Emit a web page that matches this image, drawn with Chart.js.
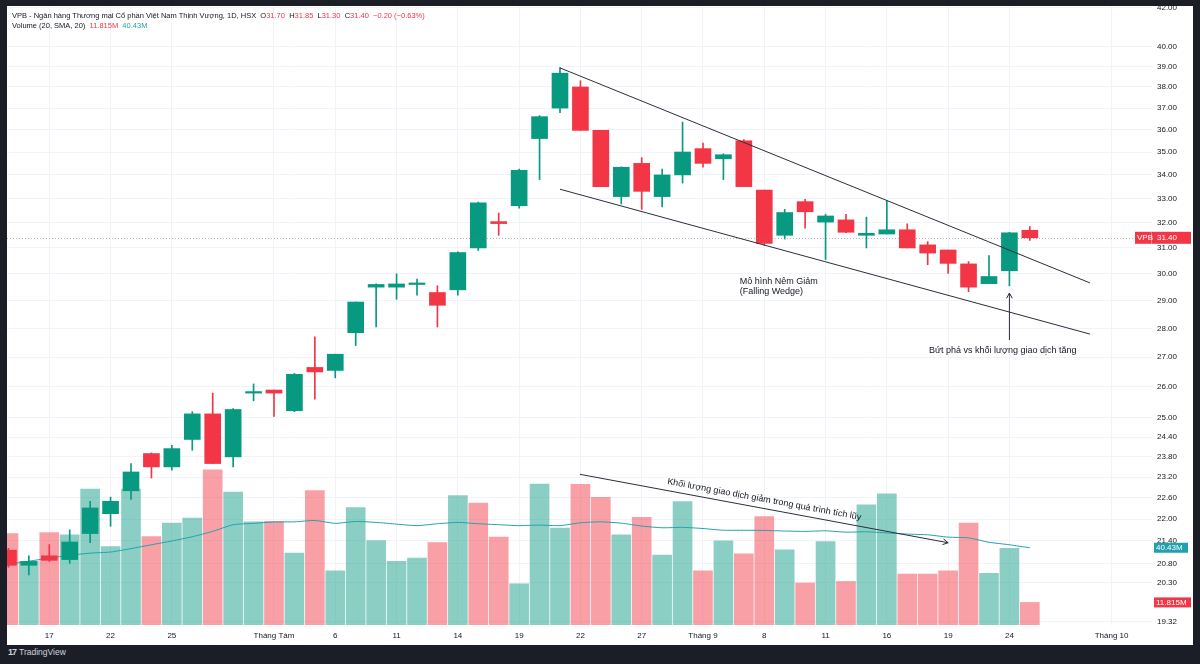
<!DOCTYPE html>
<html lang="vi">
<head>
<meta charset="UTF-8">
<title>VPB | 1D</title>
<script src="https://cdn.jsdelivr.net/npm/chart.js"></script>
<style>
    html, body { margin: 0; padding: 0; width: 1200px; height: 664px; overflow: hidden; background: #1b1e27; font-family: "Liberation Sans", Arial, sans-serif; }
    .khung { position: absolute; left: 7px; top: 6px; width: 1186px; height: 639px; background: #fff; }
    .vung-ve { position: absolute; left: 0; top: 0; width: 1186px; height: 639px; }
    .tieu-de { position: absolute; left: 5px; font-size: 7.5px; line-height: 9px; color: #131722; white-space: nowrap; }
    .do { color: #f23645; }
    .xanh { color: #22a0ae; }
    .logo { position: absolute; left: 8px; top: 647px; font-size: 8.5px; color: #d1d4dc; white-space: nowrap; }
    .logo b { font-size: 9px; letter-spacing: -1px; margin-right: 3px; }
</style>
</head>
<body>
    <div class="khung">
        <div class="vung-ve"><canvas id="bieuDo"></canvas></div>
        <div class="tieu-de" style="top:5px">VPB - Ngân hàng Thương mại Cổ phần Việt Nam Thịnh Vượng, 1D, HSX&nbsp;&nbsp;O<span class="do">31.70</span>&nbsp;&nbsp;H<span class="do">31.85</span>&nbsp;&nbsp;L<span class="do">31.30</span>&nbsp;&nbsp;C<span class="do">31.40</span>&nbsp;&nbsp;<span class="do">−0.20 (−0.63%)</span></div>
        <div class="tieu-de" style="top:14.5px">Volume (20, SMA, 20)&nbsp;&nbsp;<span class="do">11.815M</span>&nbsp;&nbsp;<span class="xanh">40.43M</span></div>
    </div>
    <div class="logo"><b>17</b>TradingView</div>

<script>
    // Ngày giao dịch (15/07/2025 -> 25/09/2025)
    const ngay = ['15/07', '16/07', '17/07', '18/07', '21/07', '22/07', '23/07', '24/07', '25/07', '28/07', '29/07', '30/07', '31/07',
        '01/08', '04/08', '05/08', '06/08', '07/08', '08/08', '11/08', '12/08', '13/08', '14/08', '15/08', '18/08', '19/08', '20/08', '21/08', '22/08', '25/08', '26/08', '27/08', '28/08', '29/08',
        '03/09', '04/09', '05/09', '08/09', '09/09', '10/09', '11/09', '12/09', '15/09', '16/09', '17/09', '18/09', '19/09', '22/09', '23/09', '24/09', '25/09'];

    const giaMo = [21.15, 20.75, 21.00, 20.90, 21.60, 22.15, 22.80, 23.90, 23.50, 24.33, 25.13, 23.80, 25.80,
        25.90, 25.23, 26.65, 26.55, 27.85, 29.50, 29.50, 29.60, 29.30, 29.40, 31.00, 32.05, 32.70, 35.60, 37.00, 38.00, 35.97, 33.08, 34.50, 33.08, 34.00,
        35.15, 34.70, 35.50, 33.35, 31.50, 32.87, 32.03, 32.12, 31.50, 31.55, 31.72, 31.12, 30.92, 30.38, 29.63, 30.12, 31.70];
    const giaCao = [21.20, 21.00, 21.30, 21.70, 22.50, 22.62, 23.60, 23.92, 24.15, 25.20, 25.80, 25.30, 26.10,
        25.90, 26.45, 27.70, 27.10, 28.95, 29.62, 30.00, 29.80, 29.55, 30.85, 32.85, 32.40, 34.25, 36.65, 38.95, 38.30, 35.97, 34.35, 34.75, 34.25, 36.35,
        35.40, 34.92, 35.55, 33.35, 32.55, 32.97, 32.35, 32.35, 32.23, 32.90, 31.96, 31.25, 30.92, 30.47, 30.70, 31.62, 31.85];
    const giaThap = [20.70, 20.50, 20.85, 20.80, 21.35, 21.80, 22.55, 23.17, 23.40, 24.00, 23.60, 23.50, 25.55,
        25.05, 25.20, 25.60, 26.30, 27.40, 28.05, 29.05, 29.20, 28.05, 29.20, 30.90, 31.50, 32.60, 33.80, 36.78, 35.97, 33.50, 32.77, 32.55, 32.65, 33.65,
        34.33, 33.80, 33.50, 31.10, 31.35, 31.78, 30.55, 31.60, 31.00, 31.55, 31.00, 30.35, 30.02, 29.33, 29.63, 29.55, 31.30];
    const giaDong = [20.75, 20.85, 20.88, 21.37, 22.31, 22.50, 23.35, 23.50, 24.05, 25.13, 23.60, 25.27, 25.80,
        25.80, 26.42, 26.50, 27.10, 28.95, 29.60, 29.62, 29.60, 28.83, 30.82, 32.82, 31.97, 34.20, 36.60, 38.67, 35.97, 33.50, 34.33, 33.30, 34.00, 35.00,
        34.50, 34.88, 33.50, 31.18, 32.42, 32.45, 32.28, 31.62, 31.58, 31.72, 31.00, 30.80, 30.40, 29.50, 29.90, 31.60, 31.40];

    // Khối lượng (triệu cp), màu cột khối lượng (1 = tăng) và đường SMA 20
    const khoiLuong = [47.8, 33.3, 48.4, 47.2, 71.1, 41.1, 71.1, 46.3, 53.3, 56.0, 81.2, 69.6, 54.0,
        54.2, 37.7, 70.4, 28.4, 61.5, 44.2, 33.3, 35.0, 43.2, 67.8, 63.8, 46.0, 21.6, 73.7, 50.7, 73.6, 66.8, 47.2, 56.3, 36.6, 64.6,
        28.4, 44.1, 37.3, 56.8, 39.4, 22.0, 43.6, 22.8, 62.9, 68.7, 26.7, 26.7, 28.4, 53.3, 27.0, 40.1, 11.815];
    const klTang = [0, 1, 0, 1, 1, 1, 1, 0, 1, 1, 0, 1, 1,
        0, 1, 0, 1, 1, 1, 1, 1, 0, 1, 0, 0, 1, 1, 1, 0, 0, 1, 0, 1, 1,
        0, 1, 0, 0, 1, 0, 1, 0, 1, 1, 0, 0, 0, 0, 1, 1, 0];
    const smaKhoiLuong = [31.8, 33.4, 35.0, 36.5, 37.6, 38.2, 40.0, 42.0, 44.0, 46.2, 49.0, 52.5, 53.2,
        53.9, 54.0, 54.7, 53.2, 54.2, 53.7, 52.8, 52.0, 53.0, 53.7, 53.0, 52.5, 52.0, 52.3, 52.0, 53.5, 54.0, 53.3, 51.8, 50.9, 51.1,
        50.5, 49.6, 49.6, 49.5, 49.2, 49.0, 49.3, 48.6, 48.8, 48.2, 47.6, 47.2, 46.0, 45.6, 43.3, 42.0, 40.43];

    // Vạch trục
    const vachGia = [42, 40, 39, 38, 37, 36, 35, 34, 33, 32, 31, 30, 29, 28, 27, 26, 25, 24.4, 23.8, 23.2, 22.6, 22, 21.4, 20.8, 20.3, 19.32];
    const vachNgay = [2, 5, 8, 13, 16, 19, 22, 25, 28, 31, 34, 37, 40, 43, 46, 49, 54];
    const nhanNgay = ['17', '22', '25', 'Tháng Tám', '6', '11', '14', '19', '22', '27', 'Tháng 9', '8', '11', '16', '19', '24', 'Tháng 10'];

    // Hình vẽ tay: [phiên, giá] -> [phiên, giá]
    const duongNem = [[27.0, 38.93, 52.94, 29.66], [27.0, 33.39, 52.94, 27.80]];
    const muiTenButPha = [49, 27.59, 49, 29.28];
    const muiTenKhoiLuong = [27.98, 23.28, 46.0, 21.35];

    const mauTang = '#089981';
    const mauGiam = '#f23645';
    const mauNen = giaDong.map((c, i) => c >= giaMo[i] ? mauTang : mauGiam);
    const mauKL = klTang.map(t => t ? 'rgba(8, 153, 129, 0.47)' : 'rgba(242, 54, 69, 0.47)');

    Chart.defaults.font.family = '"Liberation Sans", Arial, sans-serif';

    const kyHieu = {
        id: 'kyHieu',
        afterDatasetsDraw(chart) {
            const { ctx, chartArea: a, scales: { x, y } } = chart;
            ctx.save();
            ctx.beginPath();
            ctx.rect(a.left, a.top, a.right - a.left, a.bottom - a.top);
            ctx.clip();

            // đường giá hiện tại
            const yGia = Math.round(y.getPixelForValue(giaDong[giaDong.length - 1])) + 0.5;
            ctx.strokeStyle = 'rgba(120, 123, 134, 0.55)';
            ctx.lineWidth = 1;
            ctx.setLineDash([1, 2]);
            ctx.beginPath();
            ctx.moveTo(a.left, yGia);
            ctx.lineTo(a.right, yGia);
            ctx.stroke();
            ctx.setLineDash([]);

            ctx.strokeStyle = '#2a2e39';
            ctx.lineWidth = 1;
            duongNem.forEach(d => {
                ctx.beginPath();
                ctx.moveTo(x.getPixelForValue(d[0]), y.getPixelForValue(d[1]));
                ctx.lineTo(x.getPixelForValue(d[2]), y.getPixelForValue(d[3]));
                ctx.stroke();
            });

            function muiTen(m) {
                const x1 = x.getPixelForValue(m[0]), y1 = y.getPixelForValue(m[1]);
                const x2 = x.getPixelForValue(m[2]), y2 = y.getPixelForValue(m[3]);
                const goc = Math.atan2(y2 - y1, x2 - x1);
                ctx.beginPath();
                ctx.moveTo(x1, y1);
                ctx.lineTo(x2, y2);
                ctx.moveTo(x2 - 6 * Math.cos(goc - 0.5), y2 - 6 * Math.sin(goc - 0.5));
                ctx.lineTo(x2, y2);
                ctx.lineTo(x2 - 6 * Math.cos(goc + 0.5), y2 - 6 * Math.sin(goc + 0.5));
                ctx.stroke();
                return goc;
            }
            muiTen(muiTenButPha);
            const gocKL = muiTen(muiTenKhoiLuong);

            ctx.fillStyle = '#131722';
            ctx.font = '9px "Liberation Sans", Arial, sans-serif';
            ctx.textBaseline = 'middle';
            ctx.textAlign = 'left';
            ctx.fillText('Mô hình Nêm Giảm', x.getPixelForValue(35.8), y.getPixelForValue(29.70));
            ctx.fillText('(Falling Wedge)', x.getPixelForValue(35.8), y.getPixelForValue(29.32));
            ctx.fillText('Bứt phá vs khối lượng giao dịch tăng', x.getPixelForValue(45.06), y.getPixelForValue(27.24));

            ctx.save();
            ctx.translate(x.getPixelForValue(37.0), y.getPixelForValue(22.55));
            ctx.rotate(gocKL);
            ctx.textAlign = 'center';
            ctx.fillText('Khối lượng giao dịch giảm trong quá trình tích lũy', 0, 0);
            ctx.restore();

            ctx.restore();
        },
        afterDraw(chart) {
            const { ctx, chartArea: a, scales: { y, yKL } } = chart;
            ctx.save();
            ctx.font = '8px "Liberation Sans", Arial, sans-serif';
            ctx.textBaseline = 'middle';
            ctx.textAlign = 'left';

            const yGia = y.getPixelForValue(giaDong[giaDong.length - 1]);
            ctx.fillStyle = mauGiam;
            ctx.fillRect(a.right - 17, yGia - 6, 56, 12);
            ctx.fillStyle = 'rgba(255,255,255,0.35)';
            ctx.fillRect(a.right - 1, yGia - 6, 1, 12);
            ctx.fillStyle = '#fff';
            ctx.fillText('VPB', a.right - 15, yGia);
            ctx.fillText(giaDong[giaDong.length - 1].toFixed(2), a.right + 5, yGia);

            const ySma = yKL.getPixelForValue(smaKhoiLuong[smaKhoiLuong.length - 1]);
            ctx.fillStyle = '#22a0ae';
            ctx.fillRect(a.right + 2, ySma - 5, 34, 10);
            ctx.fillStyle = '#fff';
            ctx.fillText(smaKhoiLuong[smaKhoiLuong.length - 1].toFixed(2) + 'M', a.right + 4, ySma);

            const yKLcuoi = yKL.getPixelForValue(khoiLuong[khoiLuong.length - 1]);
            ctx.fillStyle = mauGiam;
            ctx.fillRect(a.right + 2, yKLcuoi - 5, 37, 10);
            ctx.fillStyle = '#fff';
            ctx.fillText(khoiLuong[khoiLuong.length - 1].toFixed(3) + 'M', a.right + 4, yKLcuoi);
            ctx.restore();
        }
    };

    const luoi = { color: '#f0f3fa', drawTicks: false, offset: false };

    new Chart(document.getElementById('bieuDo'), {
        type: 'bar',
        data: {
            datasets: [{
                label: 'Thân nến',
                data: giaMo.map((o, i) => ({ x: i, y: [o, giaDong[i]] })),
                backgroundColor: mauNen,
                barThickness: 16,
                minBarLength: 1.5,
                grouped: false,
                yAxisID: 'y',
                order: 1
            }, {
                label: 'Bóng nến',
                data: giaThap.map((l, i) => ({ x: i, y: [l, giaCao[i]] })),
                backgroundColor: mauNen,
                barThickness: 1,
                minBarLength: 1,
                grouped: false,
                yAxisID: 'y',
                order: 2
            }, {
                type: 'line',
                label: 'SMA 20',
                data: smaKhoiLuong.map((v, i) => ({ x: i, y: v })),
                borderColor: '#22a0ae',
                borderWidth: 1,
                pointRadius: 0,
                tension: 0.2,
                yAxisID: 'yKL',
                order: 3
            }, {
                label: 'Volume',
                data: khoiLuong.map((v, i) => ({ x: i, y: v })),
                backgroundColor: mauKL,
                barThickness: 19,
                grouped: false,
                yAxisID: 'yKL',
                order: 4
            }]
        },
        options: {
            responsive: true,
            maintainAspectRatio: false,
            animation: false,
            devicePixelRatio: 1,
            layout: { padding: 0 },
            plugins: { legend: { display: false }, tooltip: { enabled: false } },
            scales: {
                x: {
                    type: 'linear',
                    min: -0.07,
                    max: 55.98,
                    bounds: 'data',
                    offset: false,
                    grid: luoi,
                    border: { display: false },
                    ticks: {
                        autoSkip: false,
                        maxRotation: 0,
                        padding: 6,
                        color: '#131722',
                        font: { size: 8 },
                        callback: v => {
                            const k = vachNgay.indexOf(v);
                            return k >= 0 ? nhanNgay[k] : '';
                        }
                    },
                    afterBuildTicks: s => { s.ticks = vachNgay.map(v => ({ value: v })); },
                    afterFit: s => { s.height = 20; s.paddingLeft = 0; s.paddingRight = 0; }
                },
                y: {
                    type: 'logarithmic',
                    position: 'right',
                    min: 19.24,
                    max: 42.1,
                    bounds: 'data',
                    grid: luoi,
                    border: { display: false },
                    ticks: {
                        autoSkip: false,
                        padding: 5,
                        color: '#131722',
                        font: { size: 8 },
                        callback: v => Number(v).toFixed(2)
                    },
                    afterBuildTicks: s => { s.ticks = vachGia.map(v => ({ value: v })); },
                    afterFit: s => { s.width = 41; s.paddingTop = 0; s.paddingBottom = 0; }
                },
                yKL: {
                    type: 'linear',
                    display: false,
                    min: 0,
                    max: 324
                }
            }
        },
        plugins: [kyHieu]
    });
</script>
</body>
</html>
